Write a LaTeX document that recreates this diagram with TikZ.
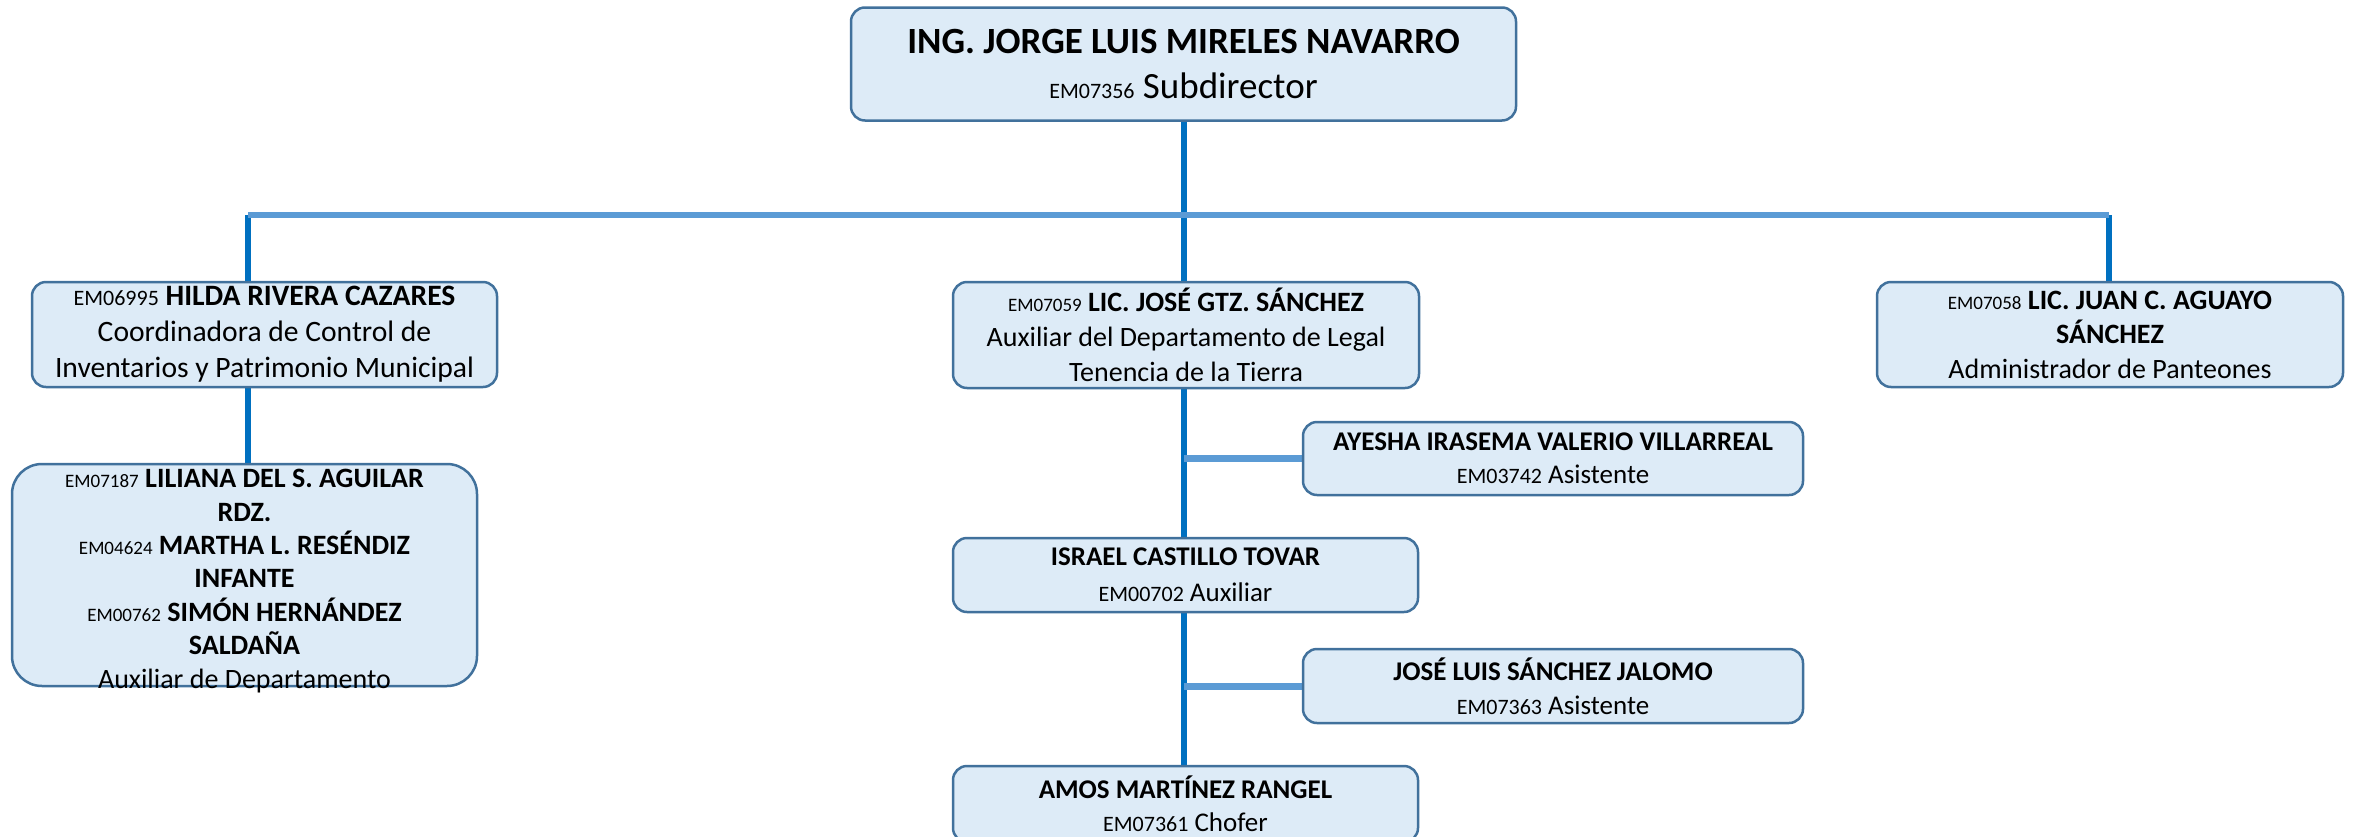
\documentclass[tikz,border=0pt]{standalone}
\usepackage{fontspec}
\setmainfont{Carlito}
\usetikzlibrary{backgrounds}
\definecolor{boxfill}{HTML}{DDEBF7}
\definecolor{boxline}{HTML}{41719C}
\definecolor{trunkcol}{HTML}{0070C0}
\definecolor{buscol}{HTML}{5B9BD5}
\newcommand{\emno}[1]{{\fontsize{19}{19}\selectfont #1}}
\newcommand{\emnob}[1]{{\fontsize{22}{22}\selectfont #1}}
\begin{document}
\begin{tikzpicture}[x=1pt,y=-1pt,
  orgbox/.style={draw=boxline, line width=2.5pt, fill=boxfill, rounded corners=14pt,
    align=center, inner sep=0pt, font=\fontsize{28}{34}\selectfont},
  trunk/.style={draw=trunkcol, line width=6pt},
  bus/.style={draw=buscol, line width=6pt},
  sidelink/.style={draw=buscol, line width=7pt}]
\useasboundingbox (0,0) rectangle (2354,836);
\clip (0,0) rectangle (2354,836);

\node[orgbox, minimum width=665pt, minimum height=113pt, font=\fontsize{37}{45}\selectfont] (top) at (1183.5,64)
  {\textbf{ING. JORGE LUIS MIRELES NAVARRO}\\\emnob{EM07356} Subdirector};

\node[orgbox, minimum width=465pt, minimum height=105pt, font=\fontsize{29.6}{36}\selectfont] (hilda) at (264.5,334.5)
  {\emnob{EM06995} \textbf{HILDA RIVERA CAZARES}\\Coordinadora de Control de\\Inventarios y Patrimonio Municipal};

\node[orgbox, minimum width=465pt, minimum height=222pt, rounded corners=30pt] (lili) at (244.5,575) {};
\node[align=center, inner sep=0pt, font=\fontsize{28}{33.4}\selectfont] (lilitext) at ([yshift=-6pt]lili.center)
  {\emno{EM07187} \textbf{LILIANA DEL S. AGUILAR}\\\textbf{RDZ.}\\
   \emno{EM04624} \textbf{MARTHA L. RESÉNDIZ}\\\textbf{INFANTE}\\
   \emno{EM00762} \textbf{SIMÓN HERNÁNDEZ}\\\textbf{SALDAÑA}\\Auxiliar de Departamento};

\node[orgbox, minimum width=466pt, minimum height=106pt, font=\fontsize{28}{35}\selectfont] (jose) at (1186,335)
  {\emno{EM07059} \textbf{LIC. JOSÉ GTZ. SÁNCHEZ}\\Auxiliar del Departamento de Legal\\Tenencia de la Tierra};

\node[orgbox, minimum width=466pt, minimum height=105pt, font=\fontsize{28}{34.5}\selectfont] (juan) at (2110,334.5)
  {\emno{EM07058} \textbf{LIC. JUAN C. AGUAYO}\\\textbf{SÁNCHEZ}\\Administrador de Panteones};

\node[orgbox, minimum width=500pt, minimum height=73pt, font=\fontsize{27}{33}\selectfont] (ayesha) at (1553,458.5)
  {\textbf{AYESHA IRASEMA VALERIO VILLARREAL}\\\emnob{EM03742} Asistente};

\node[orgbox, minimum width=465pt, minimum height=74pt, font=\fontsize{27}{36}\selectfont] (israel) at (1185.5,575)
  {\textbf{ISRAEL CASTILLO TOVAR}\\\emnob{EM00702} Auxiliar};

\node[orgbox, minimum width=500pt, minimum height=74pt, font=\fontsize{27}{34}\selectfont] (joseluis) at (1553,686)
  {\textbf{JOSÉ LUIS SÁNCHEZ JALOMO}\\\emnob{EM07363} Asistente};

\node[orgbox, minimum width=465pt, minimum height=76pt, font=\fontsize{27}{33}\selectfont] (amos) at (1185.5,804)
  {\textbf{AMOS MARTÍNEZ RANGEL}\\\emnob{EM07361} Chofer};

\coordinate (busL) at (248,215);
\coordinate (busR) at (2109,215);
\coordinate (busM) at (1184,215);

\begin{pgfonlayer}{background}
  \draw[trunk] (busM |- top.south) -- (busM |- amos.north);
  \draw[sidelink] (busM |- ayesha.west) -- (ayesha.west);
  \draw[sidelink] (busM |- joseluis.west) -- (joseluis.west);
  \draw[trunk] (busL) -- (busL |- hilda.north);
  \draw[trunk] (busL |- hilda.south) -- (busL |- lili.north);
  \draw[trunk] (busR) -- (busR |- juan.north);
  \draw[bus] (busL) -- (busR);
\end{pgfonlayer}
\end{tikzpicture}
\end{document}
